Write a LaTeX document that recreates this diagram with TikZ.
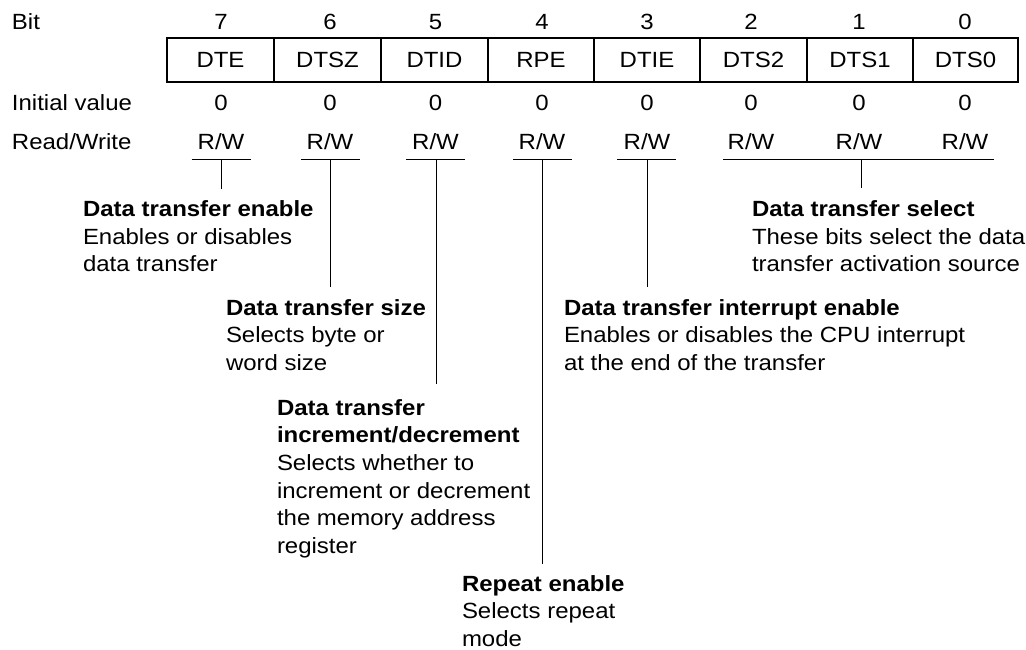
\documentclass[tikz,border=0pt]{standalone}
\usepackage{fontspec}
\setmainfont{Liberation Sans}[FakeStretch=1.09]
\newcommand\regdesc[1]{\vtop{\baselineskip=20.8pt\lineskiplimit=0pt\halign{##\hfil\cr#1\crcr}}}
\begin{document}
\begin{tikzpicture}[x=0.75pt,y=-0.75pt,
  every node/.style={inner sep=0pt,outer sep=0pt,font=\fontsize{16.5}{20.8}\selectfont},
  rowlbl/.style={anchor=base west},
  collbl/.style={anchor=base},
  cellbox/.style={draw,line width=0.9pt,minimum height=33pt},
  desctext/.style={anchor=base west},
  ln/.style={line width=0.75pt}]
\useasboundingbox (0,0) rectangle (1026,650);
% row labels
\node[rowlbl] (bitlbl) at (12,29) {Bit};
\node[rowlbl] (initlbl) at (12,110) {Initial value};
\node[rowlbl] (rwlbl) at (12,149.5) {Read/Write};
% columns
\foreach \b/\cx/\nm/\l/\r in {7/221/DTE/167/274, 6/330/DTSZ/274/381, 5/435.5/DTID/381/488, 4/542/RPE/488/594, 3/647/DTIE/594/700, 2/751/DTS2/700/807, 1/859/DTS1/807/913, 0/965/DTS0/913/1018}{
  \node[collbl] (n\b) at (\cx,29) {\b};
  \pgfmathsetmacro\w{(\r-\l)*0.75}
  \node[cellbox,minimum width=\w pt] (c\b) at ({(\l+\r)/2},60) {\nm};
  \node[collbl] (i\b) at (\cx,110) {0};
  \node[collbl] (rw\b) at (\cx,149.5) {R/W};
}
% underlines
\foreach \b/\cx in {7/221, 6/330.5, 5/435.5, 4/542.5, 3/646.5}{
  \coordinate (ul\b) at ({\cx-29.5},159);
  \coordinate (ur\b) at ({\cx+29.5},159);
  \draw[ln] (ul\b) -- (ur\b);
}
\coordinate (ulS) at (723,159);
\coordinate (urS) at (994,159);
\draw[ln] (ulS) -- (urS);
% descriptions
\node[desctext] (dDTE) at (83,216.5) {\regdesc{\textbf{Data transfer enable}\cr Enables or disables\cr data transfer}};
\node[desctext] (dDTSZ) at (226,315) {\regdesc{\textbf{Data transfer size}\cr Selects byte or\cr word size}};
\node[desctext] (dDTID) at (277,415) {\regdesc{\textbf{Data transfer}\cr\textbf{increment/decrement}\cr Selects whether to\cr increment or decrement\cr the memory address\cr register}};
\node[desctext] (dRPE) at (462,591) {\regdesc{\textbf{Repeat enable}\cr Selects repeat\cr mode}};
\node[desctext] (dDTIE) at (564,315) {\regdesc{\textbf{Data transfer interrupt enable}\cr Enables or disables the CPU interrupt\cr at the end of the transfer}};
\node[desctext] (dDTS) at (752,216.5) {\regdesc{\textbf{Data transfer select}\cr These bits select the data\cr transfer activation source}};
% leader lines
\coordinate (t7) at (221,159);   \coordinate (e7) at (221,189);
\coordinate (t6) at (330.5,159); \coordinate (e6) at (330.5,287);
\coordinate (t5) at (436,159);   \coordinate (e5) at (436,384);
\coordinate (t4) at (542,159);   \coordinate (e4) at (542,564);
\coordinate (t3) at (647,159);   \coordinate (e3) at (647,287);
\coordinate (tS) at (861,159);   \coordinate (eS) at (861,188);
\draw[ln] (t7) -- (e7);
\draw[ln] (t6) -- (e6);
\draw[ln] (t5) -- (e5);
\draw[ln] (t4) -- (e4);
\draw[ln] (t3) -- (e3);
\draw[ln] (tS) -- (eS);
\end{tikzpicture}
\end{document}
